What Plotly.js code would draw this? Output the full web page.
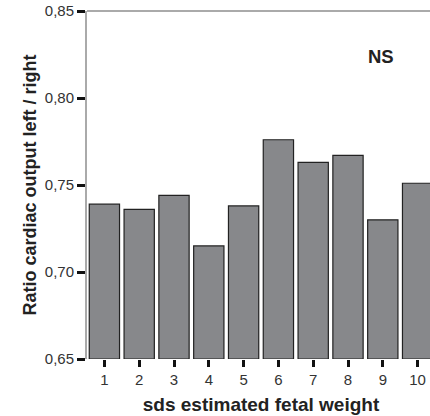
<!DOCTYPE html>
<html><head><meta charset="utf-8">
<script src="https://cdn.plot.ly/plotly-3.0.1.min.js"></script>
<style>html,body{margin:0;padding:0;overflow:hidden;background:#fff;width:430px;height:416px}</style>
</head><body><div id="chart"></div>
<script>
const categories = [1, 2, 3, 4, 5, 6, 7, 8, 9, 10];
const ratioValues = [0.739, 0.736, 0.744, 0.715, 0.738, 0.776, 0.763, 0.767, 0.730, 0.751];
const yTickVals = [0.65, 0.70, 0.75, 0.80, 0.85];
const yTickText = ['0,65', '0,70', '0,75', '0,80', '0,85'];
const baseValue = 0.65;

const trace = {
  type: 'bar', x: categories,
  base: baseValue,
  y: ratioValues.map(v => v - baseValue),
  marker: {color: '#87888b', line: {color: '#222', width: 1.2}},
  hoverinfo: 'skip'
};
const layout = {
  width: 435, height: 416,
  margin: {l: 87, r: 0, t: 11, b: 57},
  paper_bgcolor: '#fff', plot_bgcolor: '#fff',
  font: {family: 'Liberation Sans, Arial, sans-serif', color: '#333', size: 15},
  bargap: 0.13,
  showlegend: false,
  xaxis: {
    range: [0.5, 10.5], tickvals: categories, ticktext: categories.map(String),
    ticks: 'outside', ticklen: 7, tickwidth: 3, tickcolor: '#111',
    showline: false, showgrid: false, zeroline: false,
    tickfont: {size: 15, color: '#333'},
    title: {text: 'sds estimated fetal weight', font: {size: 19, color: '#222', weight: 'bold'}, standoff: 10}
  },
  yaxis: {
    range: [0.65, 0.85], tickvals: yTickVals, ticktext: yTickText,
    ticks: 'outside', ticklen: 8, tickwidth: 3, tickcolor: '#111',
    showline: true, linecolor: '#aaa', linewidth: 2,
    showgrid: false, zeroline: false,
    tickfont: {size: 15, color: '#333'},
    title: {text: 'Ratio cardiac output left / right', font: {size: 18, color: '#222', weight: 'bold'}, standoff: 3}
  },
  shapes: [{type: 'line', xref: 'paper', yref: 'paper', x0: 0, x1: 1, y0: 1, y1: 1, line: {color: '#aaa', width: 2}}],
  annotations: [{text: 'NS', xref: 'x', yref: 'y', x: 8.96, y: 0.8236, showarrow: false,
    font: {size: 18.5, color: '#222', weight: 'bold'}}]
};
Plotly.newPlot('chart', [trace], layout, {displayModeBar: false, staticPlot: true});
</script></body></html>
